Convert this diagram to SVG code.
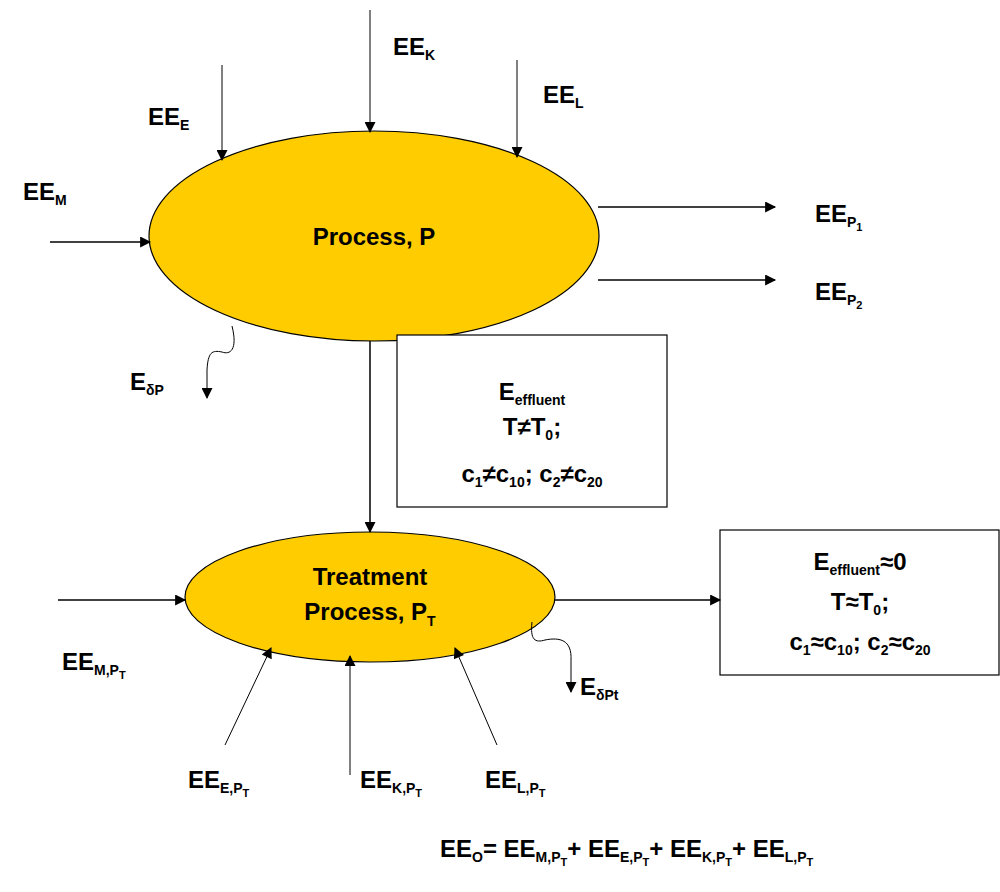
<svg xmlns="http://www.w3.org/2000/svg" width="1000" height="892" viewBox="0 0 1000 892">
<style>
text{font-family:"Liberation Sans",Arial,sans-serif;font-weight:bold;fill:#000;font-size:24px}
.s{font-size:14px}
.u{font-size:11px}
.n{fill:#FFCC00;stroke:#000;stroke-width:1.2}
.c{stroke:#000;stroke-width:1.5;fill:none}
.t{stroke:#000;stroke-width:1;fill:none}
</style>
<defs>
<marker id="a" viewBox="0 0 10 10" refX="9" refY="5" markerUnits="userSpaceOnUse" markerWidth="13" markerHeight="11" orient="auto"><path d="M0,0L10,5L0,10z" fill="#000"/></marker>
</defs>
<rect width="1000" height="892" fill="#fff"/>
<g id="process">
<ellipse class="n" cx="374" cy="236" rx="225" ry="105"/>
<text x="374" y="245" text-anchor="middle">Process, P</text>
</g>
<g id="treatment">
<ellipse class="n" cx="370" cy="597" rx="185" ry="65"/>
<text x="370" y="585" text-anchor="middle">Treatment</text>
<text x="370" y="620" text-anchor="middle">Process, P<tspan class="s" dy="6">T</tspan></text>
</g>
<g id="box1">
<rect x="397" y="335" width="270" height="172" fill="#fff" stroke="#000" stroke-width="1.2"/>
<text x="532" y="400" text-anchor="middle">E<tspan class="s" dy="5">effluent</tspan></text>
<text x="532" y="435" text-anchor="middle">T≠T<tspan class="s" dy="5">0</tspan><tspan dy="-5">;</tspan></text>
<text x="532" y="482" text-anchor="middle" font-size="21">c<tspan class="s" dy="5">1</tspan><tspan dy="-5">≠c</tspan><tspan class="s" dy="5">10</tspan><tspan dy="-5">; c</tspan><tspan class="s" dy="5">2</tspan><tspan dy="-5">≠c</tspan><tspan class="s" dy="5">20</tspan></text>
</g>
<g id="box2">
<rect x="720" y="530" width="279" height="145" fill="#fff" stroke="#000" stroke-width="1.2"/>
<text x="860" y="570" text-anchor="middle">E<tspan class="s" dy="5">effluent</tspan><tspan dy="-5">≈0</tspan></text>
<text x="860" y="610" text-anchor="middle">T≈T<tspan class="s" dy="5">0</tspan><tspan dy="-5">;</tspan></text>
<text x="860" y="650" text-anchor="middle" font-size="21">c<tspan class="s" dy="5">1</tspan><tspan dy="-5">≈c</tspan><tspan class="s" dy="5">10</tspan><tspan dy="-5">; c</tspan><tspan class="s" dy="5">2</tspan><tspan dy="-5">≈c</tspan><tspan class="s" dy="5">20</tspan></text>
</g>
<g id="connectors">
<line class="t" x1="222" y1="65" x2="222" y2="160" marker-end="url(#a)"/>
<line class="t" x1="370" y1="10" x2="370" y2="132" marker-end="url(#a)"/>
<line class="t" x1="517" y1="60" x2="517" y2="157" marker-end="url(#a)"/>
<line class="c" x1="50" y1="242" x2="150" y2="242" marker-end="url(#a)"/>
<line class="c" x1="598" y1="207" x2="775" y2="207" marker-end="url(#a)"/>
<line class="c" x1="598" y1="280" x2="775" y2="280" marker-end="url(#a)"/>
<path class="t" d="M232,326 C238,350 230,355 222,352 C212,350 208,352 207,370 L207,398" marker-end="url(#a)"/>
<line class="c" x1="370" y1="341" x2="370" y2="532" marker-end="url(#a)"/>
<line class="c" x1="58" y1="600" x2="185" y2="600" marker-end="url(#a)"/>
<line class="c" x1="555" y1="600" x2="720" y2="600" marker-end="url(#a)"/>
<path class="t" d="M532,622 C530,640 535,643 545,640 C560,637 572,640 571,660 L571,692" marker-end="url(#a)"/>
<line class="t" x1="225" y1="745" x2="271" y2="648" marker-end="url(#a)"/>
<line class="t" x1="350" y1="775" x2="350" y2="656" marker-end="url(#a)"/>
<line class="t" x1="497" y1="745" x2="455" y2="648" marker-end="url(#a)"/>
</g>
<g id="labels">
<text x="148" y="125">EE<tspan class="s" dy="5">E</tspan></text>
<text x="393" y="55">EE<tspan class="s" dy="5">K</tspan></text>
<text x="543" y="103">EE<tspan class="s" dy="5">L</tspan></text>
<text x="23" y="200">EE<tspan class="s" dy="5">M</tspan></text>
<text x="815" y="222">EE<tspan class="s" dy="5">P</tspan><tspan class="u" dy="4">1</tspan></text>
<text x="815" y="300">EE<tspan class="s" dy="5">P</tspan><tspan class="u" dy="4">2</tspan></text>
<text x="130" y="390">E<tspan class="s" dy="5">δP</tspan></text>
<text x="580" y="695">E<tspan class="s" dy="5">δPt</tspan></text>
<text x="62" y="670">EE<tspan class="s" dy="5">M,P</tspan><tspan class="u" dy="4">T</tspan></text>
<text x="188" y="788">EE<tspan class="s" dy="5">E,P</tspan><tspan class="u" dy="4">T</tspan></text>
<text x="360" y="788">EE<tspan class="s" dy="5">K,P</tspan><tspan class="u" dy="4">T</tspan></text>
<text x="485" y="788">EE<tspan class="s" dy="5">L,P</tspan><tspan class="u" dy="4">T</tspan></text>
<text x="440" y="857">EE<tspan class="s" dy="5">O</tspan><tspan dy="-5">= EE</tspan><tspan class="s" dy="5">M,P</tspan><tspan class="u" dy="4">T</tspan><tspan dy="-9">+ EE</tspan><tspan class="s" dy="5">E,P</tspan><tspan class="u" dy="4">T</tspan><tspan dy="-9">+ EE</tspan><tspan class="s" dy="5">K,P</tspan><tspan class="u" dy="4">T</tspan><tspan dy="-9">+ EE</tspan><tspan class="s" dy="5">L,P</tspan><tspan class="u" dy="4">T</tspan></text>
</g>
</svg>
